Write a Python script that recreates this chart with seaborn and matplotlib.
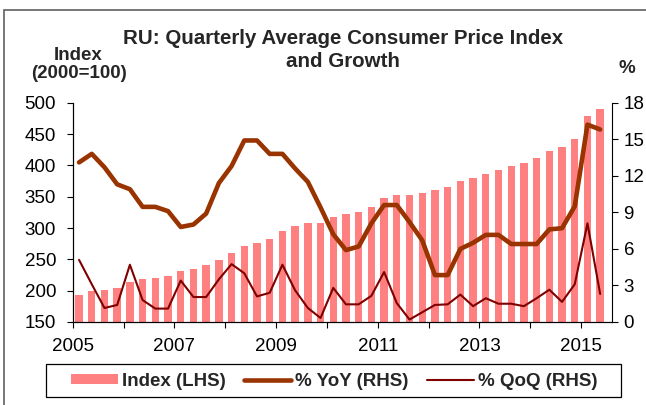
import matplotlib
matplotlib.use("Agg")
import matplotlib.pyplot as plt
import seaborn as sns
import pandas as pd
from matplotlib.patches import Rectangle, Patch
from matplotlib.lines import Line2D

# ---- data ----
years = list(range(2005, 2016))
quarters = [f"{y}Q{q}" for y in years for q in range(1, 5)][:42]

index_vals = [193.5, 200.0, 201.5, 204.7, 214.0, 218.5, 220.6, 222.8,
              230.7, 235.0, 240.8, 248.8, 260.5, 270.6, 276.4, 282.8,
              296.0, 304.0, 307.7, 308.3, 317.8, 322.0, 326.3, 333.8,
              348.0, 352.9, 353.2, 355.5, 360.8, 366.0, 374.7, 379.4,
              386.3, 392.7, 398.5, 403.9, 411.3, 422.5, 428.8, 442.0,
              478.7, 489.4]
yoy = [13.1, 13.8, 12.7, 11.3, 10.9, 9.45, 9.45, 9.1,
       7.8, 8.0, 8.9, 11.4, 12.8, 14.9, 14.9, 13.8,
       13.8, 12.6, 11.5, 9.4, 7.2, 5.9, 6.2, 8.1,
       9.6, 9.6, 8.2, 6.7, 3.85, 3.85, 6.0, 6.5,
       7.15, 7.15, 6.4, 6.4, 6.4, 7.6, 7.7, 9.5,
       16.2, 15.8]
qoq = [5.1, 3.1, 1.15, 1.4, 4.7, 1.8, 1.1, 1.1,
       3.4, 2.05, 2.05, 3.5, 4.75, 4.0, 2.1, 2.4,
       4.7, 2.6, 1.15, 0.33, 2.8, 1.45, 1.45, 2.15,
       4.1, 1.55, 0.2, 0.8, 1.4, 1.45, 2.25, 1.3,
       1.95, 1.5, 1.5, 1.3, 1.95, 2.65, 1.65, 3.1,
       8.1, 2.3]
year_labels = ["2005", "", "2007", "", "2009", "", "2011", "", "2013", "", "2015"]
left_ticks = [150, 200, 250, 300, 350, 400, 450, 500]
right_ticks = [0, 3, 6, 9, 12, 15, 18]

df = pd.DataFrame({"quarter": quarters, "index": index_vals,
                   "yoy": yoy, "qoq": qoq, "pos": range(len(quarters))})

BAR = "#FF8080"
YOY = "#993300"
QOQ = "#800000"

sns.set_theme(style="ticks")
plt.rcParams["font.family"] = ["Liberation Sans", "DejaVu Sans"]

W, H = 646, 405
fig = plt.figure(figsize=(W / 100, H / 100), dpi=100)
fig.patch.set_facecolor("white")

L, R, T, B = 72.7, 612.5, 102.7, 322.0
ax = fig.add_axes([L / W, 1 - B / H, (R - L) / W, (B - T) / H])

sns.barplot(data=df, x="quarter", y="index", order=quarters, color=BAR,
            saturation=1, width=0.58, linewidth=0, ax=ax)
ax.set_ylim(150, 500)
ax.set_yticks(left_ticks)
ax.set_xlabel("")
ax.set_ylabel("")

ax2 = ax.twinx()
sns.lineplot(data=df, x="pos", y="yoy", color=YOY, lw=3.3, ax=ax2,
             legend=False, solid_joinstyle="round", solid_capstyle="round")
sns.lineplot(data=df, x="pos", y="qoq", color=QOQ, lw=1.5, ax=ax2,
             legend=False)
ax2.set_ylim(0, 18)
ax2.set_yticks(right_ticks)
ax2.set_xlabel("")
ax2.set_ylabel("")

xt = [-0.5 + 4 * k for k in range(len(year_labels))]
for a in (ax, ax2):
    a.set_xlim(-0.5, 41.97)
ax.set_xticks(xt)
ax.set_xticklabels(year_labels)

for a in (ax, ax2):
    for s in a.spines.values():
        s.set_linewidth(0.8)
        s.set_color("black")
    a.spines["top"].set_visible(False)
ax.spines["right"].set_visible(False)

ax.tick_params(axis="y", direction="out", length=4, width=0.8, pad=8,
               labelsize=13.5, colors="black")
ax.tick_params(axis="x", direction="out", length=4.5, width=0.8, pad=7,
               labelsize=13.5, colors="black")
ax2.tick_params(axis="y", direction="out", length=4, width=0.8, pad=4,
                labelsize=13.5, colors="black")

# ---- texts ----
fig.text(343 / W, 1 - 44 / H, "RU: Quarterly Average Consumer Price Index",
         ha="center", va="baseline", fontsize=14.8, fontweight="bold")
fig.text(343 / W, 1 - 66.7 / H, "and Growth",
         ha="center", va="baseline", fontsize=14.8, fontweight="bold")
fig.text(78.5 / W, 1 - 60 / H, "Index", ha="center", va="baseline",
         fontsize=13.5, fontweight="bold")
fig.text(78.5 / W, 1 - 78 / H, "(2000=100)", ha="center", va="baseline",
         fontsize=13.5, fontweight="bold")
fig.text(627 / W, 1 - 73 / H, "%", ha="center", va="baseline",
         fontsize=13.5, fontweight="bold")

# ---- legend ----
handles = [Patch(facecolor=BAR, edgecolor="none"),
           Line2D([], [], color=YOY, lw=3.3),
           Line2D([], [], color=QOQ, lw=1.5)]
labels = ["Index (LHS)", "% YoY (RHS)", "% QoQ (RHS)"]
leg = fig.legend(handles, labels, loc="center", ncol=3, frameon=False,
                 bbox_to_anchor=(334 / W, 1 - 381 / H),
                 prop={"weight": "bold", "size": 13.5},
                 handlelength=2.5, handleheight=0.5, handletextpad=0.2,
                 columnspacing=1.0, borderpad=0)
fig.add_artist(Rectangle((45.7 / W, 1 - 397.3 / H), 575 / W, 33 / H,
                         transform=fig.transFigure, fill=False,
                         edgecolor="black", lw=0.9))
# outer chart frame
fig.add_artist(Rectangle((4 / W, -0.1), 1.2, 1 - 10.5 / H + 0.1,
                         transform=fig.transFigure, fill=False,
                         edgecolor="#606060", lw=1.2))

fig.savefig("out.png", dpi=100)
